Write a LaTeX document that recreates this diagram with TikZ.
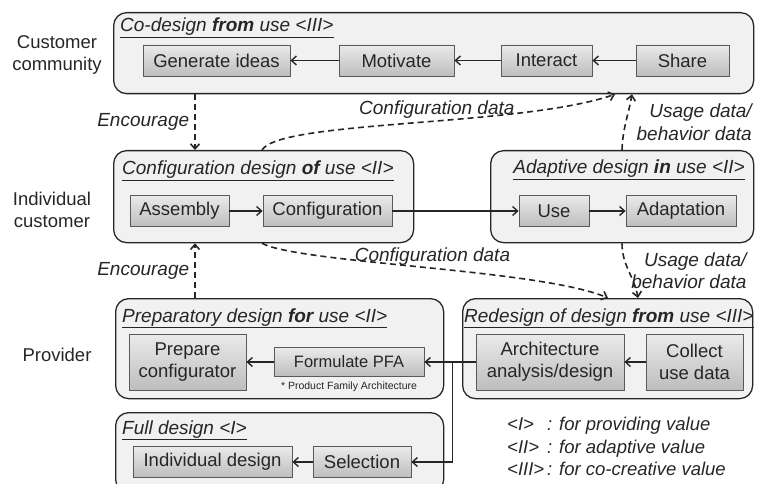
\documentclass[tikz,border=0pt]{standalone}
\usepackage{fontspec}
\setmainfont{Liberation Sans}
\usepackage{xcolor}
\definecolor{panelgray}{HTML}{F1F1F1}
\definecolor{boxtop}{HTML}{EAEAEA}
\definecolor{boxbottom}{HTML}{BDBDBD}
\definecolor{boxline}{HTML}{5A5A5A}
\usetikzlibrary{arrows.meta,calc}

\begin{document}
\begin{tikzpicture}[x=1pt, y=-1pt, >={Straight Barb[length=5pt,width=9pt]},
    every node/.style={font=\fontsize{18.5}{22}\selectfont, text=black!85},
    panel/.style={draw=black!85, line width=1.3pt, fill=panelgray, rounded corners=13pt, anchor=north west, inner sep=0pt},
    task/.style={draw=boxline, line width=0.8pt, top color=boxtop, bottom color=boxbottom, align=center, inner sep=1pt, minimum height=31pt},
    title/.style={anchor=base west, inner sep=0pt, font=\fontsize{19}{22}\selectfont\itshape},
    flow/.style={draw, ->, line width=1.4pt, black!85},
    feed/.style={draw, ->, line width=1.6pt, black!85, dash pattern=on 6pt off 4pt},
    tag/.style={font=\fontsize{19}{22.5}\selectfont\itshape, inner sep=1pt}]
        \useasboundingbox (0,0) rectangle (758,484);

        % Panels
        \node [panel, minimum width=640pt, minimum height=81pt] (codesign) at (113,12) {};
        \node [panel, minimum width=300pt, minimum height=92pt] (configbox) at (113,150) {};
        \node [panel, minimum width=263pt, minimum height=92pt] (adaptbox) at (490,150) {};
        \node [panel, minimum width=328pt, minimum height=100pt] (prepbox) at (115,298) {};
        \node [panel, minimum width=290pt, minimum height=100pt] (redesignbox) at (462,298) {};
        \node [panel, minimum width=328pt, minimum height=80pt] (fullbox) at (115,412) {};

        % Panel titles
        \node [title] (codesigntitle) at (120,32) {\underline{Co-design \textbf{from} use <III>}};
        \node [title] (configtitle) at (122,175) {\underline{Configuration design \textbf{of} use <II>}};
        \node [title, anchor=base east] (adapttitle) at (745,174) {\underline{Adaptive design \textbf{in} use <II>}};
        \node [title] (preptitle) at (122,322) {\underline{Preparatory design \textbf{for} use <II>}};
        \node [title] (redesigntitle) at (464,322) {\underline{Redesign of design \textbf{from} use <III>}};
        \node [title] (fulltitle) at (122,434) {\underline{Full design <I>}};

        % Actors
        \node [align=center] (community) at (57,55) {Customer\\community};
        \node [align=center] (individual) at (52,210) {Individual\\customer};
        \node (provider) at (57,355) {Provider};

        % Activities
        \node [task, minimum width=147pt] (ideas) at (216.5,60.5) {Generate ideas};
        \node [task, minimum width=115pt] (motivate) at (396.5,60.5) {Motivate};
        \node [task, minimum width=91pt] (interact) at (546.5,60.5) {Interact};
        \node [task, minimum width=93pt] (share) at (682.5,60.5) {Share};
        \node [task, minimum width=99pt] (assembly) at (179.5,211) {Assembly};
        \node [task, minimum width=129pt] (configuration) at (327.5,211) {Configuration};
        \node [task, minimum width=70pt] (use) at (554,211) {Use};
        \node [task, minimum width=110pt] (adaptation) at (681,211) {Adaptation};
        \node [task, minimum width=117pt, minimum height=56pt] (prepconf) at (187.5,362) {Prepare\\configurator};
        \node [task, minimum width=150pt, minimum height=29pt, font=\fontsize{16.5}{20}\selectfont] (formulate) at (349,362) {Formulate PFA};
        \node [inner sep=0pt, font=\fontsize{10.5}{12}\selectfont] (pfanote) at (349,387) {* Product Family Architecture};
        \node [task, minimum width=148pt, minimum height=56pt] (arch) at (550,362) {Architecture\\analysis/design};
        \node [task, minimum width=97pt, minimum height=56pt] (collect) at (694.5,362) {Collect\\use data};
        \node [task, minimum width=159pt] (indiv) at (212.5,462) {Individual design};
        \node [task, minimum width=98pt] (selection) at (362,462) {Selection};

        % Legend
        \node [anchor=north west, align=left, inner sep=0pt, font=\fontsize{18.5}{22.5}\selectfont\itshape] (legend) at (507,417)
            {\makebox[40pt][l]{<I>}: for providing value\\\makebox[40pt][l]{<II>}: for adaptive value\\\makebox[40pt][l]{<III>}: for co-creative value};

        % Paths
        \path [flow] (share) -- (interact);
        \path [flow] (interact) -- (motivate);
        \path [flow] (motivate) -- (ideas);
        \path [flow] (assembly) -- (configuration);
        \path [flow] (configuration) -- (use);
        \path [flow] (use) -- (adaptation);
        \path [flow] (collect) -- (arch);
        \path [flow] (arch) -- (formulate);
        \path [flow] ([xshift=-23pt]arch.west) |- (selection.east);
        \path [flow] (formulate) -- (prepconf);
        \path [flow] (selection) -- (indiv);

        % Feedback paths
        \path [feed] ([xshift=82pt]codesign.south west) -- node [tag, midway, left=4pt] {Encourage} ([xshift=82pt]configbox.north west);
        \path [feed] ([xshift=80pt]prepbox.north west) -- node [tag, midway, left=4pt] {Encourage} ([xshift=82pt]configbox.south west);
        \path [feed] ([xshift=149pt]configbox.north west) to [out=59, in=199, out distance=35pt, in distance=100pt] node [tag, pos=0.56, above=1pt] {Configuration data} ([xshift=502pt]codesign.south west);
        \path [feed] ([xshift=149pt]configbox.south west) to [out=-28, in=157, out distance=43pt, in distance=74pt] node [tag, pos=0.52, above=1pt] {Configuration data} ([xshift=146pt]redesignbox.north west);
        \path [feed] ([xshift=132pt]adaptbox.north west) to [out=88, in=-100] node [tag, midway, right=9pt, align=right] {Usage data/\\behavior data} ([xshift=519pt]codesign.south west);
        \path [feed] ([xshift=132pt]adaptbox.south west) to [out=-90, in=100] node [tag, midway, right=1pt, align=right] {Usage data/\\behavior data} ([xshift=176pt]redesignbox.north west);
    \end{tikzpicture}
\end{document}
